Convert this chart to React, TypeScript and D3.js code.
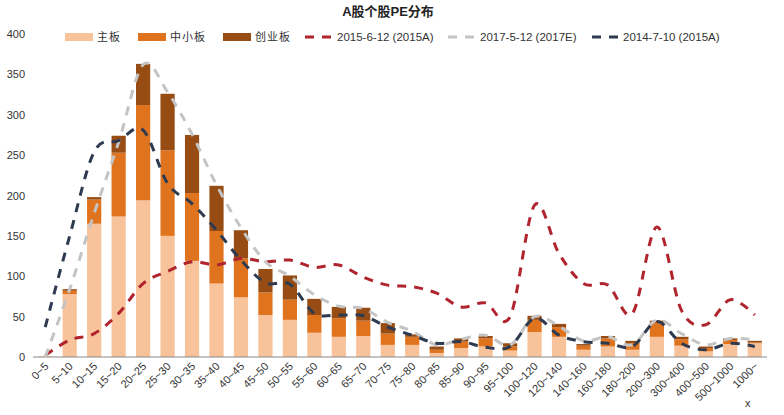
import React from "react";
import * as d3 from "d3";

const categories = ["0~5","5~10","10~15","15~20","20~25","25~30","30~35","35~40","40~45","45~50","50~55","55~60","60~65","65~70","70~75","75~80","80~85","85~90","90~95","95~100","100~120","120~140","140~160","160~180","180~200","200~300","300~400","400~500","500~1000","1000~"];
const mainBoard = [1,78,165,174,194,150,119,91,74,52,46,30,25,26,15,15,5,11,13,8,31,25,9,13,9,25,14,7,16,17];
const smeBoard = [0,4,30,79,118,106,84,65,48,28,25,22,23,19,14,10,4,8,10,5,15,12,5,10,8,17,8,4,5,1];
const gemBoard = [0,2,3,21,51,70,72,56,35,29,30,20,14,16,13,3,4,4,3,4,5,4,2,3,3,3,3,2,2,2];
const line2015 = [2,21,29,54,91,106,118,114,122,118,120,111,114,99,89,87,79,62,67,50,188,128,91,89,54,161,58,40,71,52];
const line2017 = [0,84,178,266,362,328,276,213,160,118,100,77,63,60,43,32,15,22,27,15,50,38,20,25,15,46,29,15,23,21];
const line2014 = [37,150,254,268,281,215,190,157,120,92,90,54,52,51,37,27,17,19,12,13,48,27,19,17,13,44,17,9,17,13];
const yTicks = [0,50,100,150,200,250,300,350,400];

const barSeries = [
  { name: "主板", values: mainBoard, color: "#F8C29A" },
  { name: "中小板", values: smeBoard, color: "#E0731E" },
  { name: "创业板", values: gemBoard, color: "#964C12" },
];
const lineSeries = [
  { name: "2015-6-12 (2015A)", values: line2015, color: "#B0242E" },
  { name: "2017-5-12 (2017E)", values: line2017, color: "#C4C4C4" },
  { name: "2014-7-10 (2015A)", values: line2014, color: "#2E3A50" },
];

const W = 784, H = 415;
const X0 = 33, X1 = 767, Y0 = 357, Y1 = 34;
const font = "'Liberation Sans', Arial, 'Noto Sans CJK SC', sans-serif";

export default function App() {
  const x = d3.scaleBand<string>().domain(categories).range([X0, X1]).paddingInner(0.42).paddingOuter(0.21);
  const y = d3.scaleLinear().domain([0, 400]).range([Y0, Y1]);
  const cx = (c: string) => (x(c) as number) + x.bandwidth() / 2;

  const stackData = categories.map((c, i) => ({ c, a: mainBoard[i], b: smeBoard[i], d: gemBoard[i] }));
  const stack = d3.stack<any>().keys(["a", "b", "d"])(stackData);

  const lineGen = d3.line<number>()
    .x((_, i) => cx(categories[i]))
    .y((v) => y(v))
    .curve(d3.curveCatmullRom.alpha(0));

  const legendBars = [
    { x: 65, tx: 97 },
    { x: 138, tx: 170 },
    { x: 223, tx: 255 },
  ];
  const legendLines = [
    { x: 305, tx: 337 },
    { x: 448, tx: 480 },
    { x: 592, tx: 623 },
  ];
  const ly = 37;

  return (
    <svg width={W} height={H} style={{ position: "absolute", left: 0, top: 0, background: "#fff" }} fontFamily={font}>
      <text x={388} y={16} textAnchor="middle" fontSize={13} fontWeight="bold" fill="#222">A股个股PE分布</text>

      {barSeries.map((s, i) => (
        <g key={s.name}>
          <rect x={legendBars[i].x} y={ly - 4} width={28} height={8} fill={s.color} />
          <text x={legendBars[i].tx} y={ly + 4} fontSize={11} fill="#333" letterSpacing={1} fontFamily="'Noto Sans CJK SC', sans-serif">{s.name}</text>
        </g>
      ))}
      {lineSeries.map((s, i) => (
        <g key={s.name}>
          <line x1={legendLines[i].x} x2={legendLines[i].x + 27} y1={ly} y2={ly} stroke={s.color} strokeWidth={3} strokeDasharray="9,8" />
          <text x={legendLines[i].tx} y={ly + 4} fontSize={11.5} fill="#333">{s.name}</text>
        </g>
      ))}

      {yTicks.map((t) => (
        <text key={t} x={25} y={y(t) + 4} textAnchor="end" fontSize={11} fill="#333">{t}</text>
      ))}

      {stack.map((layer, li) => (
        <g key={li} fill={barSeries[li].color}>
          {layer.map((d: any, i: number) => {
            const h = y(d[0]) - y(d[1]);
            if (h <= 0) return null;
            return <rect key={i} x={x(categories[i])} y={y(d[1])} width={x.bandwidth()} height={h} />;
          })}
        </g>
      ))}

      <line x1={X0} x2={X1} y1={Y0} y2={Y0} stroke="#888" strokeWidth={1} />

      {lineSeries.map((s) => (
        <path key={s.name} d={lineGen(s.values) || ""} fill="none" stroke={s.color} strokeWidth={3} strokeDasharray="9,8" />
      ))}

      {categories.map((c) => (
        <text key={c} transform={`translate(${cx(c) + 4},${Y0 + 10}) rotate(-45)`} textAnchor="end" fontSize={11} fill="#333">{c}</text>
      ))}
      <text x={745} y={407} fontSize={11} fill="#333">x</text>
    </svg>
  );
}
